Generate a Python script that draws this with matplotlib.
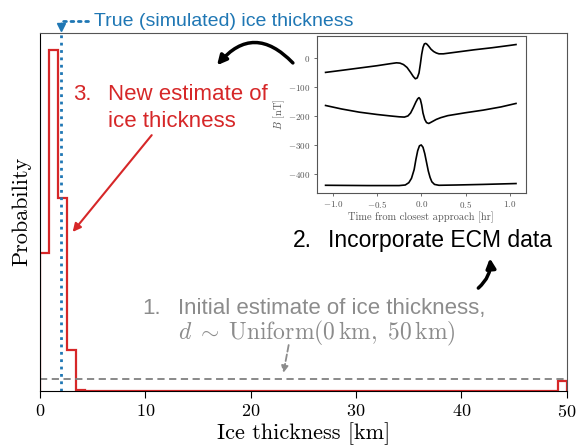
import numpy as np
import matplotlib
matplotlib.use("Agg")
import matplotlib.pyplot as plt

plt.rcParams["font.family"] = ["cmr10", "DejaVu Serif"]
plt.rcParams["mathtext.fontset"] = "cm"
plt.rcParams["axes.formatter.use_mathtext"] = True

# histogram of the posterior (density per km), 59 bins on 0..50 km
edges = np.linspace(0, 50, 60)
post = np.zeros(59)
post[:5] = [0.236, 0.583, 0.330, 0.070, 0.002]
post[-1] = 0.017
prior = 1 / 50
d_true = 2.0

# inset: ECM field components
t1 = [-1.08, -0.9, -0.7, -0.5, -0.35, -0.28, -0.24, -0.2, -0.16, -0.12, -0.09, -0.066, -0.045,
      -0.025, -0.01, 0.005, 0.02, 0.035, 0.05, 0.065, 0.085, 0.11, 0.14, 0.17, 0.2, 0.25, 0.4,
      0.6, 0.8, 1.0, 1.07]
b1 = [-50, -43, -35, -27, -20, -17, -18, -23, -33, -50, -64, -72, -69, -52, -22, 12, 36, 48, 50,
      47, 40, 30, 22, 17, 14, 14, 20, 28, 35, 43, 46]
t2 = [-1.08, -0.9, -0.7, -0.5, -0.35, -0.25, -0.19, -0.15, -0.12, -0.09, -0.06, -0.04, -0.025,
      -0.01, 0.005, 0.02, 0.04, 0.06, 0.085, 0.11, 0.14, 0.17, 0.22, 0.3, 0.5, 0.7, 0.9, 1.07]
b2 = [-164, -176, -187, -195, -200, -203, -204, -200, -190, -172, -152, -141, -137, -143, -162,
      -190, -212, -223, -226, -222, -217, -212, -206, -199, -189, -180, -169, -157]
t3 = [-1.08, -0.6, -0.25, -0.18, -0.14, -0.11, -0.08, -0.06, -0.04, -0.02, 0.0, 0.02, 0.04,
      0.06, 0.08, 0.1, 0.12, 0.15, 0.2, 0.4, 0.7, 1.07]
b3 = [-439, -440, -440, -438, -430, -415, -385, -350, -320, -303, -300, -308, -330, -360, -390,
      -412, -427, -436, -439, -438, -436, -433]

red = "#d62728"
blue = "#1f77b4"
grey = "#8c8c8c"
sans = "Liberation Sans"

fig = plt.figure(figsize=(5.79, 4.46), dpi=100)
ax = fig.add_axes([0.0691, 0.1233, 0.9099, 0.8038])

ax.stairs(post, edges, color=red, lw=1.6)
ax.axhline(prior, color="#808080", ls="--", lw=1.3, dashes=(4, 2.5))
ax.axvline(d_true, color=blue, ls=":", lw=2)

ax.set_xlim(0, 50)
ax.set_ylim(0, 0.613)
ax.set_yticks([])
ax.set_xticks([0, 10, 20, 30, 40, 50])
ax.tick_params(axis="x", labelsize=13, length=5, direction="out")
for s in ["top", "right"]:
    ax.spines[s].set_color("#555555")
ax.set_xlabel("Ice thickness [km]", fontsize=16, labelpad=2)
ax.set_ylabel("Probability", fontsize=16, labelpad=6)

# true thickness label
ax.annotate("True (simulated) ice thickness", xy=(d_true, 0.622), xycoords="data",
            xytext=(0.102, 1.032), textcoords="axes fraction", ha="left", va="center",
            color=blue, fontsize=14, family=sans, annotation_clip=False,
            arrowprops=dict(arrowstyle="-", color=blue, lw=2, ls=":", relpos=(0, 0.5),
                            connectionstyle="angle,angleA=0,angleB=90,rad=0",
                            shrinkA=2, shrinkB=0))
ax.plot([d_true], [0.6225], marker="v", ms=6, color=blue, clip_on=False)

# 3. new estimate
ax.text(3.1, 0.497, "3.", color=red, fontsize=16, family=sans, va="baseline")
ax.text(6.42, 0.497, "New estimate of", color=red, fontsize=16, family=sans, va="baseline")
ax.text(6.42, 0.451, "ice thickness", color=red, fontsize=16, family=sans, va="baseline")
ax.annotate("", xy=(3.1, 0.272), xytext=(10.6, 0.4375),
            arrowprops=dict(arrowstyle="-|>", color=red, lw=1.5, mutation_scale=12,
                            shrinkA=0, shrinkB=0))

# 2. incorporate ECM data
ax.text(24.0, 0.246, "2.", color="black", fontsize=16.5, family=sans, va="baseline")
ax.text(27.3, 0.246, "Incorporate ECM data", color="black", fontsize=16.5, family=sans,
        va="baseline")
ax.annotate("", xy=(42.7, 0.227), xytext=(41.6, 0.176),
            arrowprops=dict(arrowstyle="-|>", color="black", lw=2.5, mutation_scale=14,
                            connectionstyle="arc3,rad=0.25", shrinkA=0, shrinkB=0))
ax.annotate("", xy=(16.8, 0.557), xytext=(24.0, 0.561),
            arrowprops=dict(arrowstyle="-|>", color="black", lw=2.5, mutation_scale=14,
                            connectionstyle="arc3,rad=0.55", shrinkA=0, shrinkB=0))

# 1. prior
ax.text(9.75, 0.131, "1.", color=grey, fontsize=16, family=sans, va="baseline")
ax.text(13.1, 0.131, "Initial estimate of ice thickness,", color=grey, fontsize=16,
        family=sans, va="baseline")
ax.text(13.1, 0.0889,
        r"$d\;\sim\;\mathrm{Uniform}(0\,\mathrm{km},\ 50\,\mathrm{km})$",
        color=grey, fontsize=17, va="baseline")
ax.annotate("", xy=(23.1, 0.031), xytext=(23.6, 0.0786),
            arrowprops=dict(arrowstyle="-|>", color=grey, lw=1.3, ls="--",
                            mutation_scale=10, shrinkA=0, shrinkB=0))

# inset with ECM signals
ins = fig.add_axes([0.547, 0.567, 0.361, 0.352])
ins.plot(t1, b1, color="black", lw=1.2)
ins.plot(t2, b2, color="black", lw=1.2)
ins.plot(t3, b3, color="black", lw=1.2)
ins.set_xlim(-1.18, 1.18)
ins.set_ylim(-466, 75)
ins.set_xticks([-1.0, -0.5, 0.0, 0.5, 1.0])
ins.set_yticks([0, -100, -200, -300, -400])
ins.tick_params(labelsize=6.5, length=2.5, width=0.6, colors="#555555", pad=2)
for s in ins.spines.values():
    s.set_color("#555555")
ins.set_xlabel("Time from closest approach [hr]", fontsize=7.5, color="#555555", labelpad=1)
ins.set_ylabel(r"$B$ [nT]", fontsize=7.5, color="#555555", labelpad=1)

fig.savefig("out.png", dpi=100)
